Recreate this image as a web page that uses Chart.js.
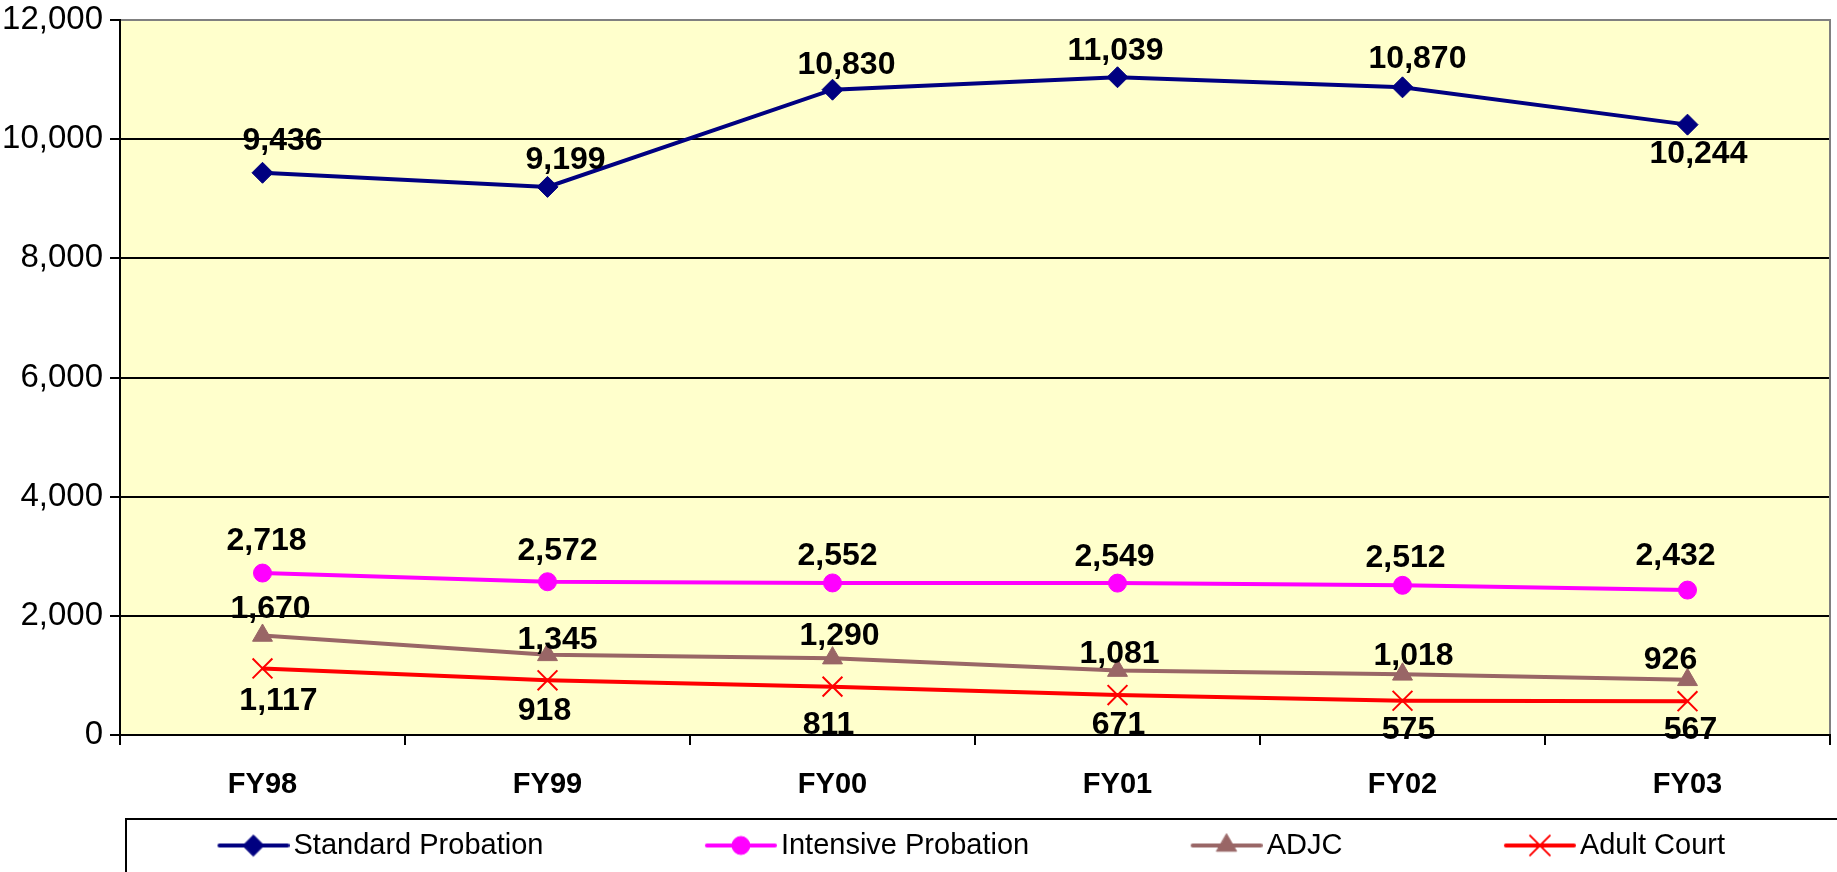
<!DOCTYPE html>
<html>
<head>
<meta charset="utf-8">
<title>Probation by fiscal year</title>
<script src="https://cdn.jsdelivr.net/npm/chart.js@4/dist/chart.umd.min.js"></script>
<style>
  html, body { margin: 0; padding: 0; background: #fff; }
  canvas { display: block; }
</style>
</head>
<body>
<canvas id="chart" width="1837" height="872"></canvas>
<script>
// categories
const years = ["FY98", "FY99", "FY00", "FY01", "FY02", "FY03"];

// series values
const standardProbation = [9436, 9199, 10830, 11039, 10870, 10244];
const intensiveProbation = [2718, 2572, 2552, 2549, 2512, 2432];
const adjc = [1670, 1345, 1290, 1081, 1018, 926];
const adultCourt = [1117, 918, 811, 671, 575, 567];

// value axis
const yMin = 0;
const yMax = 12000;
const yStep = 2000;

const FONT = '"Liberation Sans", Arial, sans-serif';

// small nudges of the value labels away from their points (px)
const labelNudges = {
    "Standard Probation": { dx: [20, 18, 14, -2, 15, 11], dy: [-32, -27, -25, -26, -28, 30] },
    "Intensive Probation": { dx: [4, 10, 5, -3, 3, -12], dy: [-32, -31, -27, -26, -27, -34] },
    "ADJC": { dx: [8, 10, 7, 2, 11, -17], dy: [-26, -15, -22, -16, -18, -20] },
    "Adult Court": { dx: [16, -3, -4, 1, 6, 3], dy: [33, 31, 38, 30, 29, 29] }
};

function series(label, data, color, pointStyle, radius, pointBorderWidth) {
    return {
        label: label,
        data: data,
        borderColor: color,
        backgroundColor: color,
        borderWidth: 4,
        pointStyle: pointStyle,
        pointRadius: radius,
        pointHoverRadius: radius,
        pointBorderWidth: pointBorderWidth,
        pointBackgroundColor: color,
        pointBorderColor: color,
        tension: 0
    };
}

const datasets = [
    series("Standard Probation", standardProbation, "#000080", "rectRot", 10.5, 1),
    series("Intensive Probation", intensiveProbation, "#FF00FF", "circle", 9, 1),
    series("ADJC", adjc, "#996666", "triangle", 11.5, 1),
    series("Adult Court", adultCourt, "#FF0000", "crossRot", 14, 2)
];

// legend sample: line with the marker in the middle, on a wider transparent strip
const LEGEND_BOX = 213;
const LEGEND_LINE = 72;
function legendIcon(ds) {
    const c = document.createElement("canvas");
    c.width = LEGEND_BOX + 21;
    c.height = 34;
    const g = c.getContext("2d");
    const cy = c.height / 2;
    g.strokeStyle = ds.borderColor;
    g.lineWidth = ds.borderWidth;
    g.lineCap = "round";
    g.beginPath();
    g.moveTo(c.width - LEGEND_LINE + 2, cy);
    g.lineTo(c.width - 2, cy);
    g.stroke();
    g.fillStyle = ds.pointBackgroundColor;
    g.strokeStyle = ds.pointBorderColor;
    g.lineWidth = ds.pointBorderWidth;
    Chart.helpers.drawPoint(g, {
        pointStyle: ds.pointStyle,
        radius: ds.pointRadius,
        rotation: 0,
        borderWidth: ds.pointBorderWidth
    }, c.width - LEGEND_LINE / 2, cy);
    return c;
}
const legendIcons = datasets.map(legendIcon);

// yellow plot area with grey top/right edge
const plotArea = {
    id: "plotArea",
    beforeDraw(chart) {
        const {ctx, chartArea: a} = chart;
        ctx.save();
        ctx.fillStyle = "#FFFFCC";
        ctx.fillRect(a.left, a.top, a.right - a.left, a.bottom - a.top);
        ctx.restore();
    },
    beforeDatasetsDraw(chart) {
        const {ctx, chartArea: a} = chart;
        ctx.save();
        ctx.strokeStyle = "#808080";
        ctx.lineWidth = 2;
        ctx.beginPath();
        ctx.moveTo(a.left + 1, a.top);
        ctx.lineTo(a.right, a.top);
        ctx.lineTo(a.right, a.bottom - 1);
        ctx.stroke();
        ctx.restore();
    }
};

// value labels next to each point
const valueLabels = {
    id: "valueLabels",
    afterDatasetsDraw(chart) {
        const ctx = chart.ctx;
        ctx.save();
        ctx.font = "bold 32px " + FONT;
        ctx.fillStyle = "#000";
        ctx.textAlign = "center";
        ctx.textBaseline = "middle";
        chart.data.datasets.forEach((ds, i) => {
            const meta = chart.getDatasetMeta(i);
            const n = labelNudges[ds.label];
            meta.data.forEach((pt, j) => {
                ctx.fillText(ds.data[j].toLocaleString("en-US"), pt.x + n.dx[j], pt.y + n.dy[j]);
            });
        });
        ctx.restore();
    }
};

// legend row sits in a framed box under the axis
const legendFrame = {
    id: "legendFrame",
    afterLayout(chart) {
        chart.legend.left = 56;
        chart.legend.right = chart.width;
    },
    afterDraw(chart) {
        const ctx = chart.ctx;
        const top = chart.legend.top - 2;
        const left = chart.chartArea.left + 6;
        ctx.save();
        ctx.strokeStyle = "#000";
        ctx.lineWidth = 2;
        ctx.strokeRect(left, top, chart.width + 20 - left, chart.height + 20 - top);
        ctx.restore();
    }
};

const chart = new Chart(document.getElementById("chart"), {
    type: "line",
    data: {
        labels: years,
        datasets: datasets
    },
    options: {
        responsive: false,
        animation: false,
        devicePixelRatio: 1,
        events: [],
        layout: {
            autoPadding: false,
            padding: { left: 0, right: 7, top: 20, bottom: 2 }
        },
        scales: {
            x: {
                offset: true,
                grid: {
                    offset: true,
                    drawOnChartArea: false,
                    drawTicks: true,
                    tickLength: 10,
                    color: "#000",
                    lineWidth: 2
                },
                border: { color: "#000", width: 2 },
                ticks: {
                    color: "#000",
                    font: { family: FONT, size: 29, weight: "bold" },
                    padding: 23,
                    maxRotation: 0
                },
                afterFit(scale) { scale.height = 86; }
            },
            y: {
                min: yMin,
                max: yMax,
                ticks: {
                    stepSize: yStep,
                    color: "#000",
                    font: { family: FONT, size: 33 },
                    padding: 7,
                    callback: v => v.toLocaleString("en-US")
                },
                grid: { color: "#000", lineWidth: 2, tickLength: 10 },
                border: { color: "#000", width: 2 },
                afterFit(scale) {
                    scale.width = 120;
                    scale.paddingTop = 0;
                }
            }
        },
        plugins: {
            tooltip: { enabled: false },
            legend: {
                position: "bottom",
                align: "start",
                labels: {
                    usePointStyle: true,
                    pointStyleWidth: LEGEND_BOX,
                    padding: 10,
                    color: "#000",
                    font: { family: FONT, size: 29 },
                    generateLabels(chart) {
                        const items = Chart.defaults.plugins.legend.labels.generateLabels(chart);
                        items.forEach((it, i) => { it.pointStyle = legendIcons[i]; });
                        return items;
                    }
                }
            }
        }
    },
    plugins: [plotArea, valueLabels, legendFrame]
});
</script>
</body>
</html>
